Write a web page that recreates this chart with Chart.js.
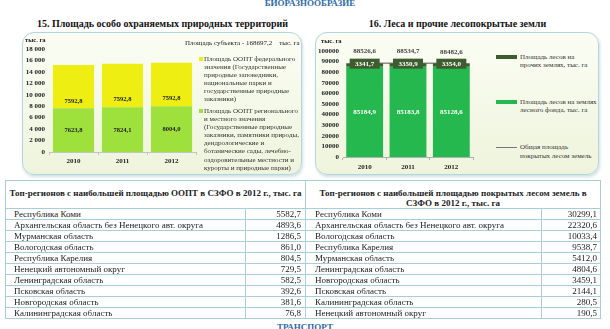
<!DOCTYPE html>
<html><head><meta charset="utf-8">
<script src="https://cdn.jsdelivr.net/npm/chart.js@4"></script>
<style>
body{margin:0;width:610px;height:329px;overflow:hidden;background:#fff;font-family:"Liberation Serif","DejaVu Serif",serif;position:relative;color:#222}
.abs{position:absolute;white-space:nowrap}
.box{position:absolute;border:1.5px solid #b2d5df;border-radius:12px;background:linear-gradient(#fbfdf4,#eef4dc);box-shadow:1px 2px 3px rgba(120,160,170,0.35);box-sizing:border-box}
.lg{position:absolute;font-size:7px;line-height:8.1px;color:#333;white-space:nowrap}
.cell{position:absolute;box-sizing:border-box;border:1px solid #a8cfd9;font-size:9px;line-height:11px;white-space:nowrap;overflow:hidden}
canvas{position:absolute}
</style></head><body>
<script>
const years = ['2010', '2011', '2012'];
const ooptRegional = [7623.8, 7824.1, 8004.0];
const ooptFederal = [7592.8, 7592.8, 7592.8];
const forestFund = [85184.9, 85183.8, 85128.6];
const forestOther = [3341.7, 3350.9, 3354.0];
const forestTotal = [88526.6, 88534.7, 88482.6];
const ooptRegions = ['Республика Коми', 'Архангельская область без Ненецкого авт. округа', 'Мурманская область', 'Вологодская область', 'Республика Карелия', 'Ненецкий автономный округ', 'Ленинградская область', 'Псковская область', 'Новгородская область', 'Калининградская область'];
const ooptValues = [5582.7, 4893.6, 1286.5, 861.0, 804.5, 729.5, 582.5, 392.6, 381.6, 76.8];
const forestRegions = ['Республика Коми', 'Архангельская область без Ненецкого авт. округа', 'Вологодская область', 'Республика Карелия', 'Мурманская область', 'Ленинградская область', 'Новгородская область', 'Псковская область', 'Калининградская область', 'Ненецкий автономный округ'];
const forestValues = [30299.1, 22320.6, 10033.4, 9538.7, 5412.0, 4804.6, 3459.1, 2144.1, 280.5, 190.5];
</script>

<div class="abs" style="left:0;width:610px;text-align:center;top:-2px;font-size:9px;font-weight:bold;color:#2e6aa6;padding-left:10px;box-sizing:border-box">БИОРАЗНООБРАЗИЕ</div>
<div class="abs" style="left:0;width:325px;text-align:center;top:18px;font-size:10px;font-weight:bold;color:#111">15. Площадь особо охраняемых природных территорий</div>
<div class="abs" style="left:305px;width:305px;text-align:center;top:18px;font-size:10px;font-weight:bold;color:#111">16. Леса и прочие лесопокрытые земли</div>

<div class="box" style="left:22px;top:32px;width:280px;height:143px"></div>
<div class="box" style="left:315px;top:32px;width:284px;height:143px"></div>

<canvas id="c1" width="185" height="142" style="left:20px;top:30px"></canvas>
<canvas id="c2" width="175" height="142" style="left:315px;top:32px"></canvas>

<div class="abs" style="left:25px;top:36px;font-size:6.5px;font-weight:bold">тыс. га</div>
<div class="abs" style="left:185px;top:38.5px;font-size:7px;color:#222">Площадь субъекта - 168697,2&nbsp;&nbsp;&nbsp; тыс. га</div>
<div class="abs" style="left:199px;top:57px;width:4px;height:4px;background:#eeee12"></div>
<div class="lg" style="left:204px;top:55px">Площадь ООПТ федерального<br>значения (Государственные<br>природные заповедники,<br>национальные парки и<br>государственные природные<br>заказники)</div>
<div class="abs" style="left:199px;top:109px;width:4px;height:4px;background:#9ee03c"></div>
<div class="lg" style="left:204px;top:107px">Площадь ООПТ регионального<br>и местного значения<br>(Государственные природные<br>заказники, памятники природы,<br>дендрологические и<br>ботанические сады, лечебно-<br>оздоровительные местности и<br>курорты и природные парки)</div>

<div class="abs" style="left:321px;top:37px;font-size:6.5px;font-weight:bold">тыс. га</div>
<div class="abs" style="left:496px;top:55px;width:21px;height:4px;background:#3e5d2f"></div>
<div class="lg" style="left:520px;top:52.5px;line-height:8.4px">Площадь лесов на<br>прочих землях, тыс. га</div>
<div class="abs" style="left:496px;top:100px;width:21px;height:4px;background:#25b84e"></div>
<div class="lg" style="left:520px;top:97.5px;line-height:8.6px">Площадь лесов на землях<br>лесного фонда, тыс. га</div>
<div class="abs" style="left:496px;top:147px;width:21px;height:1px;background:#777"></div>
<div class="lg" style="left:520px;top:143px;line-height:8.6px">Общая площадь<br>покрытых лесом земель</div>

<div id="tables"></div>
<div class="abs" style="left:0;width:610px;text-align:center;top:322px;font-size:9px;font-weight:bold;color:#2e6aa6">ТРАНСПОРТ</div>

<script>
const fmt = v => v.toFixed(1).replace('.', ',');
const serif = '"Liberation Serif", "DejaVu Serif", serif';

// tables
(function(){
  const host = document.getElementById('tables');
  function cell(x, y, w, h, html, style) {
    const d = document.createElement('div');
    d.className = 'cell';
    d.style.left = x + 'px'; d.style.top = y + 'px';
    d.style.width = w + 'px'; d.style.height = h + 'px';
    d.innerHTML = html;
    Object.assign(d.style, style || {});
    host.appendChild(d);
  }
  const top = 180, hh = 28, rh = 11;
  cell(5, top, 301, hh + 1, 'Топ-регионов с наибольшей площадью ООПТ в СЗФО в 2012 г., тыс. га',
       {fontWeight:'bold', textAlign:'center', paddingTop:'7px', lineHeight:'10px'});
  cell(305, top, 296, hh + 1, 'Топ-регионов с наибольшей площадью покрытых лесом земель в<br>СЗФО в 2012 г., тыс. га',
       {fontWeight:'bold', textAlign:'center', paddingTop:'7px', lineHeight:'10px'});
  ooptRegions.forEach((r, i) => {
    const y = top + hh + i * rh;
    cell(5, y, 241, rh + 1, r, {paddingLeft:'8px', lineHeight:'10px'});
    cell(245, y, 61, rh + 1, fmt(ooptValues[i]), {textAlign:'right', paddingRight:'4px', lineHeight:'10px'});
  });
  forestRegions.forEach((r, i) => {
    const y = top + hh + i * rh;
    cell(305, y, 237, rh + 1, r, {paddingLeft:'9px', lineHeight:'10px'});
    cell(541, y, 60, rh + 1, fmt(forestValues[i]), {textAlign:'right', paddingRight:'3px', lineHeight:'10px'});
  });
})();

const labelPlugin = {
  id: 'valueLabels',
  afterDatasetsDraw(chart) {
    const ctx = chart.ctx;
    chart.data.datasets.forEach((ds, i) => {
      const cfg = ds.valueLabel; if (!cfg) return;
      const meta = chart.getDatasetMeta(i);
      meta.data.forEach((el, j) => {
        const txt = fmt(ds.data[j]);
        let x = el.x, y;
        if (cfg.pos === 'mid') y = (el.y + el.base) / 2;
        else if (cfg.pos === 'base') y = el.base - cfg.off;
        else if (cfg.pos === 'top') y = el.y + (cfg.off || 0);
        else y = el.y - cfg.off;
        ctx.save();
        ctx.font = cfg.font;
        ctx.textAlign = 'center'; ctx.textBaseline = 'middle';
        if (cfg.bg) {
          ctx.fillStyle = cfg.bg;
          ctx.fillRect(x - cfg.bw / 2, y - cfg.bh / 2, cfg.bw, cfg.bh);
        }
        ctx.fillStyle = cfg.color;
        ctx.fillText(txt, x, y + 0.5);
        ctx.restore();
      });
    });
  }
};

const tickFont = {family: serif, size: 7, weight: 'bold'};

new Chart(document.getElementById('c1'), {
  type: 'bar',
  data: {
    labels: years,
    datasets: [
      {label: 'Площадь ООПТ регионального и местного значения', data: ooptRegional, backgroundColor: '#9ee03c', stack: 's',
       barPercentage: 0.84, categoryPercentage: 1,
       valueLabel: {pos: 'mid', color: '#222', font: 'bold 6.5px ' + serif}},
      {label: 'Площадь ООПТ федерального значения', data: ooptFederal, backgroundColor: '#eeee12', stack: 's',
       barPercentage: 0.84, categoryPercentage: 1,
       valueLabel: {pos: 'base', off: 8, color: '#222', font: 'bold 6.5px ' + serif}}
    ]
  },
  options: {
    responsive: false, animation: false, devicePixelRatio: 1,
    layout: {padding: {top: 19, right: 9, left: 0, bottom: 0}},
    plugins: {legend: {display: false}, tooltip: {enabled: false}},
    scales: {
      x: {stacked: true, grid: {drawOnChartArea: false, tickLength: 3, color: '#c4c4c4'}, border: {color: '#c4c4c4'},
          ticks: {padding: 2, font: tickFont, color: '#222'}, afterFit(s) { s.height = 20; }},
      y: {stacked: true, min: 0, max: 18000,
          ticks: {stepSize: 2000, autoSkip: false, padding: 4, font: tickFont, color: '#222',
                  callback: v => v === 0 ? '0' : Math.floor(v / 1000) + ' ' + String(v % 1000).padStart(3, '0')},
          grid: {display: false, drawTicks: false}, border: {display: false}, afterFit(s) { s.width = 29; }}
    }
  },
  plugins: [labelPlugin]
});

new Chart(document.getElementById('c2'), {
  type: 'bar',
  data: {
    labels: years,
    datasets: [
      {type: 'line', label: 'Общая площадь покрытых лесом земель', data: forestTotal, borderColor: '#555', borderWidth: 1,
       pointRadius: 0, stack: 'total', order: 0,
       valueLabel: {pos: 'above', off: 12, color: '#444', font: 'bold 7px ' + serif}},
      {label: 'Площадь лесов на землях лесного фонда, тыс. га', data: forestFund, backgroundColor: '#25b84e', stack: 'f', order: 1,
       barPercentage: 0.85, categoryPercentage: 1,
       valueLabel: {pos: 'mid', color: '#fff', font: 'bold 7px ' + serif}},
      {label: 'Площадь лесов на прочих землях, тыс. га', data: forestOther, backgroundColor: '#3e5d2f', stack: 'f', order: 1,
       barPercentage: 0.85, categoryPercentage: 1,
       valueLabel: {pos: 'top', off: 0.5, color: '#fff', font: 'bold 7px ' + serif, bg: '#3e5d2f', bw: 30, bh: 10}}
    ]
  },
  options: {
    responsive: false, animation: false, devicePixelRatio: 1,
    layout: {padding: {top: 19, right: 17, left: 0, bottom: 0}},
    plugins: {legend: {display: false}, tooltip: {enabled: false}},
    scales: {
      x: {stacked: true, grid: {drawOnChartArea: false, tickLength: 3, color: '#b0b0b0'}, border: {color: '#b0b0b0'},
          ticks: {padding: 3, font: tickFont, color: '#222'}, afterFit(s) { s.height = 17; }},
      y: {stacked: true, min: 0, max: 100000,
          ticks: {stepSize: 10000, autoSkip: false, padding: 4, font: tickFont, color: '#222', callback: v => String(v)},
          grid: {display: false, drawTicks: false}, border: {display: false}, afterFit(s) { s.width = 28; }}
    }
  },
  plugins: [labelPlugin]
});
</script>
</body></html>
